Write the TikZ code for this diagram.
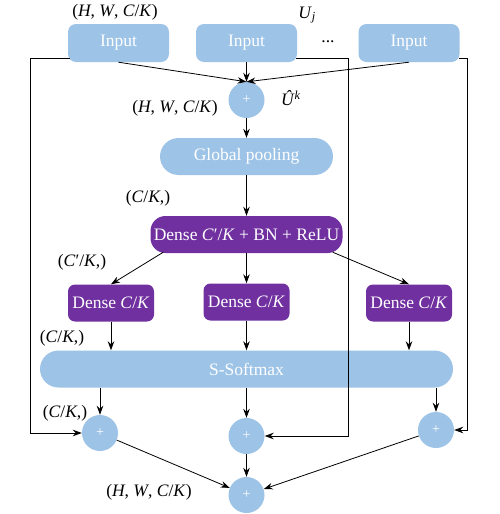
\documentclass[tikz,border=0pt]{standalone}
\usepackage{fontspec}
\setmainfont{Liberation Serif}
\usetikzlibrary{arrows.meta,calc}
\definecolor{lblue}{RGB}{157,195,230}
\definecolor{dpurple}{RGB}{112,48,160}
\begin{document}
\begin{tikzpicture}[x=1pt,y=-1pt,
  font=\fontsize{17.5}{20}\selectfont,
  bluebox/.style={fill=lblue,draw=none,text=white,rounded corners=8pt,minimum width=101pt,minimum height=38pt,inner sep=0pt},
  pillbox/.style={fill=lblue,draw=none,text=white,rounded corners=18.5pt,minimum height=37pt,inner sep=0pt},
  purplebox/.style={fill=dpurple,draw=none,text=white,rounded corners=7pt,minimum width=86pt,minimum height=37pt,inner sep=0pt},
  plus/.style={circle,fill=lblue,draw=none,text=white,minimum size=36pt,inner sep=0pt,font=\fontsize{14}{15}\selectfont},
  lbl/.style={inner sep=0pt,text=black},
  arr/.style={draw=black,line width=0.8pt,-{Stealth[length=9pt,width=6.5pt]}},
  ln/.style={draw=black,line width=0.8pt}]
\useasboundingbox (0,0) rectangle (500,514);
% nodes
\node[bluebox] (in1) at (118.5,43) {Input};
\node[bluebox] (in2) at (246.5,43) {Input};
\node[bluebox] (in3) at (409,43) {Input};
\node[lbl] (dots) at (328,42) {...};
\node[plus] (p1) at (246.5,100) {+};
\node[pillbox,minimum width=173pt] (gp) at (246.5,156.5) {Global pooling};
\node[purplebox,rounded corners=15pt,minimum width=192pt] (bn) at (246.5,234.5) {Dense \textit{C}′/\textit{K} + BN + ReLU};
\node[purplebox] (dL) at (111,303) {Dense \textit{C}/\textit{K}};
\node[purplebox] (dM) at (246.5,302) {Dense \textit{C}/\textit{K}};
\node[purplebox] (dR) at (409,303) {Dense \textit{C}/\textit{K}};
\node[pillbox,minimum width=413pt] (sm) at (246.5,369) {S-Softmax};
\node[plus] (pL) at (100,433) {+};
\node[plus] (pM) at (246.5,436) {+};
\node[plus] (pR) at (436,430) {+};
\node[plus] (pB) at (246.5,495) {+};
% labels
\node[lbl] (l1) at (115,12) {(\textit{H}, \textit{W}, \textit{C}/\textit{K})};
\node[lbl] (l2) at (307,15) {\textit{U}\textsubscript{\textit{j}}};
\node[lbl] (l3) at (175,108) {(\textit{H}, \textit{W}, \textit{C}/\textit{K})};
\node[lbl] (l4) at (291,98) {\textit{Û}\textsuperscript{\textit{k}}};
\node[lbl] (l5) at (148,198) {(\textit{C}/\textit{K},)};
\node[lbl] (l6) at (82,262) {(\textit{C}′/\textit{K},)};
\node[lbl] (l7) at (62,338) {(\textit{C}/\textit{K},)};
\node[lbl] (l8) at (65,413) {(\textit{C}/\textit{K},)};
\node[lbl] (l9) at (149,492) {(\textit{H}, \textit{W}, \textit{C}/\textit{K})};
% connectors
\draw[arr] (in1.south) -- (p1.north);
\draw[arr] (in2.south) -- (p1.north);
\draw[arr] (in3.south) -- (p1.north);
\draw[arr] ([shift={(2,-4)}]in1.south west) -- ++(-39,0) |- (pL.west);
\draw[arr] ([shift={(-1,-4)}]in2.south east) -- ++(52,0) |- (pM.east);
\draw[arr] ([shift={(-1,-4)}]in3.south east) -- ++(9,0) |- (pR.east);
\draw[arr] (p1.south) -- (gp.north);
\draw[arr] (gp.south) -- (bn.north);
\draw[arr] ([shift={(13,-1)}]bn.south west) -- (dL.north);
\draw[arr] (bn.south) -- (dM.north);
\draw[arr] ([shift={(-10,-1)}]bn.south east) -- (dR.north);
\draw[arr] (dL.south) -- (dL.south |- sm.north);
\draw[arr] (dM.south) -- (dM.south |- sm.north);
\draw[arr] (dR.south) -- (dR.south |- sm.north);
\draw[arr] (pL.north |- sm.south) -- (pL.north);
\draw[arr] (pM.north |- sm.south) -- (pM.north);
\draw[arr] (pR.north |- sm.south) -- (pR.north);
\draw[arr] (pL) -- (pB);
\draw[arr] (pM) -- (pB);
\draw[arr] (pR) -- (pB);
\end{tikzpicture}
\end{document}
